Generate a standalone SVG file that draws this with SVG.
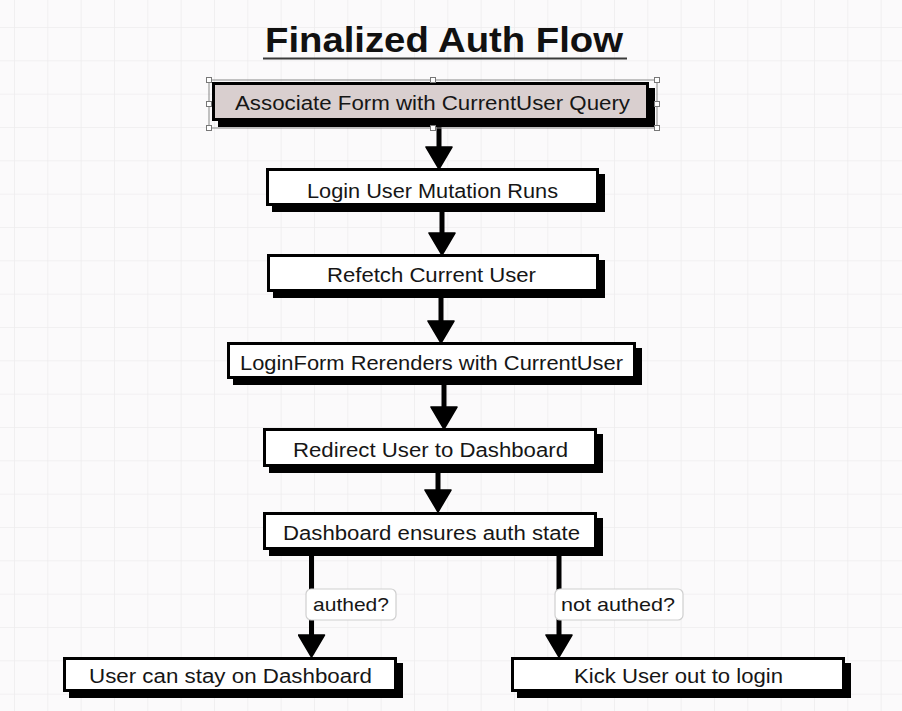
<svg xmlns="http://www.w3.org/2000/svg" width="902" height="711" viewBox="0 0 902 711">
<defs>
<pattern id="grid" patternUnits="userSpaceOnUse" x="14" y="27" width="33.333" height="33.333">
<path d="M0,0 L33.333,0 M0,0 L0,33.333" fill="none" stroke="#eeedee" stroke-width="1.6"/>
</pattern>
<marker id="ah" markerUnits="userSpaceOnUse" markerWidth="24" markerHeight="28" viewBox="-1 -1 24 28" refX="12" refY="13" orient="auto">
<path d="M0,0 L22,13 L0,26 Z" fill="#000" stroke="#000" stroke-width="1.5" stroke-linejoin="round"/>
</marker>
<style>
.shadow{fill:#000}
.box{fill:#fff;stroke:#000;stroke-width:3}
.sel{fill:#d9cfcf}
.t{font-family:"Liberation Sans","Open Sans",sans-serif;font-size:20px;fill:#161616}
.conn{stroke:#000;stroke-width:5;fill:none;marker-end:url(#ah)}
.lbl{fill:#fff;stroke:#cfcfcf;stroke-width:1.2}
.lt{font-family:"Liberation Sans","Open Sans",sans-serif;font-size:19px;fill:#161616}
.h{fill:#fff;stroke:#777;stroke-width:1}
</style>
</defs>
<rect width="902" height="711" fill="#fbfafb"/>
<rect width="902" height="711" fill="url(#grid)"/>

<g id="title">
<text x="265" y="52" font-family="Liberation Sans, Open Sans, sans-serif" font-weight="bold" font-size="35" fill="#111" textLength="358" lengthAdjust="spacingAndGlyphs">Finalized Auth Flow</text>
<line x1="263" y1="58.5" x2="627" y2="58.5" stroke="#3a3a3a" stroke-width="2"/>
</g>

<g id="connectors">
<path class="conn" d="M439,121 L439,159"/>
<path class="conn" d="M442,206 L442,245"/>
<path class="conn" d="M441,292 L441,333"/>
<path class="conn" d="M444,379 L444,419"/>
<path class="conn" d="M438,467 L438,502"/>
<path class="conn" d="M311.5,550 L311.5,647"/>
<path class="conn" d="M559,550 L559,647"/>
<g id="label-authed">
<rect class="lbl" x="306" y="589" width="90" height="31" rx="5"/>
<text class="lt" x="313" y="611" textLength="76" lengthAdjust="spacingAndGlyphs">authed?</text>
</g>
<g id="label-not-authed">
<rect class="lbl" x="555" y="589" width="128" height="31" rx="5"/>
<text class="lt" x="561" y="611" textLength="114" lengthAdjust="spacingAndGlyphs">not authed?</text>
</g>
</g>

<g id="n1">
<rect class="shadow" x="218" y="88" width="437" height="39"/>
<rect class="box sel" x="213.5" y="83.5" width="434" height="36"/>
<text class="t" x="235" y="110" textLength="395" lengthAdjust="spacingAndGlyphs">Associate Form with CurrentUser Query</text>
<rect x="209" y="80" width="448" height="48" fill="none" stroke="#888" stroke-width="1"/>
<rect class="h" x="206.5" y="77.5" width="5" height="5"/>
<rect class="h" x="430.5" y="77.5" width="5" height="5"/>
<rect class="h" x="654.5" y="77.5" width="5" height="5"/>
<rect class="h" x="206.5" y="101.5" width="5" height="5"/>
<rect class="h" x="654.5" y="101.5" width="5" height="5"/>
<rect class="h" x="206.5" y="125.5" width="5" height="5"/>
<rect class="h" x="430.5" y="125.5" width="5" height="5"/>
<rect class="h" x="654.5" y="125.5" width="5" height="5"/>
</g>

<g id="n2">
<rect class="shadow" x="272" y="174" width="333" height="38"/>
<rect class="box" x="267.5" y="169.5" width="330" height="35"/>
<text class="t" x="307" y="198" textLength="251" lengthAdjust="spacingAndGlyphs">Login User Mutation Runs</text>
</g>

<g id="n3">
<rect class="shadow" x="273" y="260" width="332" height="38"/>
<rect class="box" x="268.5" y="255.5" width="329" height="35"/>
<text class="t" x="327" y="282" textLength="209" lengthAdjust="spacingAndGlyphs">Refetch Current User</text>
</g>

<g id="n4">
<rect class="shadow" x="233" y="348" width="409" height="37"/>
<rect class="box" x="228.5" y="343.5" width="406" height="34"/>
<text class="t" x="240" y="370" textLength="383" lengthAdjust="spacingAndGlyphs">LoginForm Rerenders with CurrentUser</text>
</g>

<g id="n5">
<rect class="shadow" x="269" y="434" width="334" height="39"/>
<rect class="box" x="264.5" y="429.5" width="331" height="36"/>
<text class="t" x="293" y="457" textLength="275" lengthAdjust="spacingAndGlyphs">Redirect User to Dashboard</text>
</g>

<g id="n6">
<rect class="shadow" x="269" y="518" width="334" height="38"/>
<rect class="box" x="264.5" y="513.5" width="331" height="35"/>
<text class="t" x="283" y="540" textLength="297" lengthAdjust="spacingAndGlyphs">Dashboard ensures auth state</text>
</g>

<g id="n7">
<rect class="shadow" x="69" y="663" width="334" height="35"/>
<rect class="box" x="64.5" y="658.5" width="331" height="32"/>
<text class="t" x="89" y="683" textLength="283" lengthAdjust="spacingAndGlyphs">User can stay on Dashboard</text>
</g>

<g id="n8">
<rect class="shadow" x="517" y="663" width="334" height="35"/>
<rect class="box" x="512.5" y="658.5" width="331" height="32"/>
<text class="t" x="574" y="683" textLength="209" lengthAdjust="spacingAndGlyphs">Kick User out to login</text>
</g>
</svg>
